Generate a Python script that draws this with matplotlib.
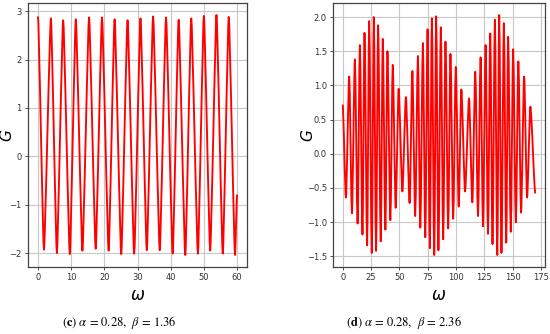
import matplotlib
matplotlib.use("Agg")
import matplotlib.pyplot as plt
from matplotlib.path import Path
from matplotlib.patches import PathPatch

# ---- data ----
# (c) alpha = 0.28, beta = 1.36
c_peak_w = [0.0, 3.9, 7.6, 11.4, 15.4, 19.3, 23.1, 27.0, 30.9, 34.7, 38.6, 42.4, 46.2, 50.0, 53.8, 57.5]
c_peak_g = [2.89, 2.85, 2.81, 2.83, 2.87, 2.87, 2.83, 2.81, 2.85, 2.89, 2.87, 2.82, 2.85, 2.90, 2.92, 2.88]
c_trough_w = [1.8, 5.7, 9.6, 13.4, 17.4, 21.3, 25.1, 29.0, 32.8, 36.7, 40.6, 44.4, 48.2, 51.9, 55.7, 59.4]
c_trough_g = [-1.93, -2.00, -2.02, -1.95, -1.91, -1.95, -2.02, -2.01, -1.94, -1.94, -2.01, -2.04, -2.01, -1.95, -2.01, -2.04]
c_end_w = [60.0]
c_end_g = [-0.79]

# (d) alpha = 0.28, beta = 2.36
d_start_w = [0.0]
d_start_g = [0.72]
d_peak_w = [5.8, 10.8, 15.2, 19.3, 23.4, 27.5, 31.3, 35.4, 39.5, 44.2, 49.4, 55.8, 61.5, 66.4, 70.8,
            74.9, 78.7, 82.5, 86.6, 90.7, 95.1, 99.8, 104.7, 111.5, 117.0, 121.7, 126.1, 130.2, 134.3,
            138.1, 142.2, 146.0, 150.4, 155.0, 160.1, 165.6]
d_peak_g = [1.13, 1.38, 1.59, 1.77, 1.94, 2.00, 1.88, 1.68, 1.50, 1.30, 0.95, 0.83, 1.21, 1.43, 1.62,
            1.82, 1.98, 2.01, 1.85, 1.64, 1.46, 1.27, 0.94, 0.81, 1.20, 1.41, 1.59, 1.76, 1.96,
            2.03, 1.91, 1.71, 1.53, 1.35, 1.13, 0.69]
d_trough_w = [2.9, 8.2, 13.2, 17.5, 21.6, 25.7, 29.5, 33.6, 37.7, 42.1, 46.8, 52.7, 59.1, 64.0, 68.5,
              72.9, 76.9, 80.8, 84.5, 88.7, 93.1, 97.5, 102.4, 108.0, 114.4, 119.4, 123.8, 128.2, 132.2,
              136.4, 140.1, 144.3, 148.3, 152.8, 157.4, 162.7]
d_trough_g = [-0.64, -0.87, -1.02, -1.18, -1.34, -1.45, -1.42, -1.28, -1.11, -0.97, -0.79, -0.55, -0.72,
              -0.91, -1.08, -1.22, -1.38, -1.48, -1.41, -1.25, -1.09, -0.95, -0.77, -0.55, -0.71, -0.91,
              -1.06, -1.17, -1.32, -1.48, -1.45, -1.30, -1.14, -1.00, -0.86, -0.64]
d_end_w = [170.0]
d_end_g = [-0.58]

c_xticks = [0, 10, 20, 30, 40, 50, 60]
c_yticks = [-2, -1, 0, 1, 2, 3]
d_xticks = [0, 25, 50, 75, 100, 125, 150, 175]
d_yticks = [-1.5, -1.0, -0.5, 0.0, 0.5, 1.0, 1.5, 2.0]

caption_c = r"($\mathbf{c}$) $\alpha$ = 0.28,  $\beta$ = 1.36"
caption_d = r"($\mathbf{d}$) $\alpha$ = 0.28,  $\beta$ = 2.36"


def smooth_curve(ax, ws, gs, k):
    pts = sorted(zip(ws, gs))
    verts = [pts[0]]
    codes = [Path.MOVETO]
    for (x0, y0), (x1, y1) in zip(pts[:-1], pts[1:]):
        dx = x1 - x0
        verts += [(x0 + k * dx, y0), (x1 - k * dx, y1), (x1, y1)]
        codes += [Path.CURVE4] * 3
    patch = PathPatch(Path(verts, codes), fill=False, edgecolor="#ff0000", lw=1.35,
                      joinstyle="round", capstyle="butt")
    ax.add_patch(patch)
    ax.autoscale_view()


plt.rcParams["mathtext.fontset"] = "stix"

fig = plt.figure(figsize=(5.5, 3.34), dpi=100)
ax1 = fig.add_axes([28 / 550, 1 - 267 / 334, (247 - 28) / 550, (267 - 3) / 334])
ax2 = fig.add_axes([333 / 550, 1 - 267 / 334, (545 - 333) / 550, (267 - 3) / 334])

smooth_curve(ax1, c_peak_w + c_trough_w + c_end_w, c_peak_g + c_trough_g + c_end_g, 0.16)
smooth_curve(ax2, d_start_w + d_peak_w + d_trough_w + d_end_w,
             d_start_g + d_peak_g + d_trough_g + d_end_g, 0.24)

for ax, xt, yt in [(ax1, c_xticks, c_yticks), (ax2, d_xticks, d_yticks)]:
    ax.set_xticks(xt)
    ax.set_yticks(yt)
    ax.grid(True, color="#c8c8c8", lw=0.8)
    ax.set_axisbelow(True)
    ax.tick_params(labelsize=6, length=2.5, width=0.6, pad=2, colors="#333333")
    for s in ax.spines.values():
        s.set_color("#444444")
        s.set_linewidth(0.9)
    ax.set_xlabel("ω", fontsize=12, style="italic", labelpad=3)
    ax.set_ylabel("G", fontsize=11, style="italic")

ax1.yaxis.set_label_coords((14 - 28) / 219, 0.5)
ax2.yaxis.set_label_coords((315 - 333) / 212, 0.5)

fig.text(0.216, 0.033, caption_c, ha="center", va="center", fontsize=9, family="STIXGeneral")
fig.text(0.735, 0.033, caption_d, ha="center", va="center", fontsize=9, family="STIXGeneral")

fig.savefig("out.png", dpi=100)
